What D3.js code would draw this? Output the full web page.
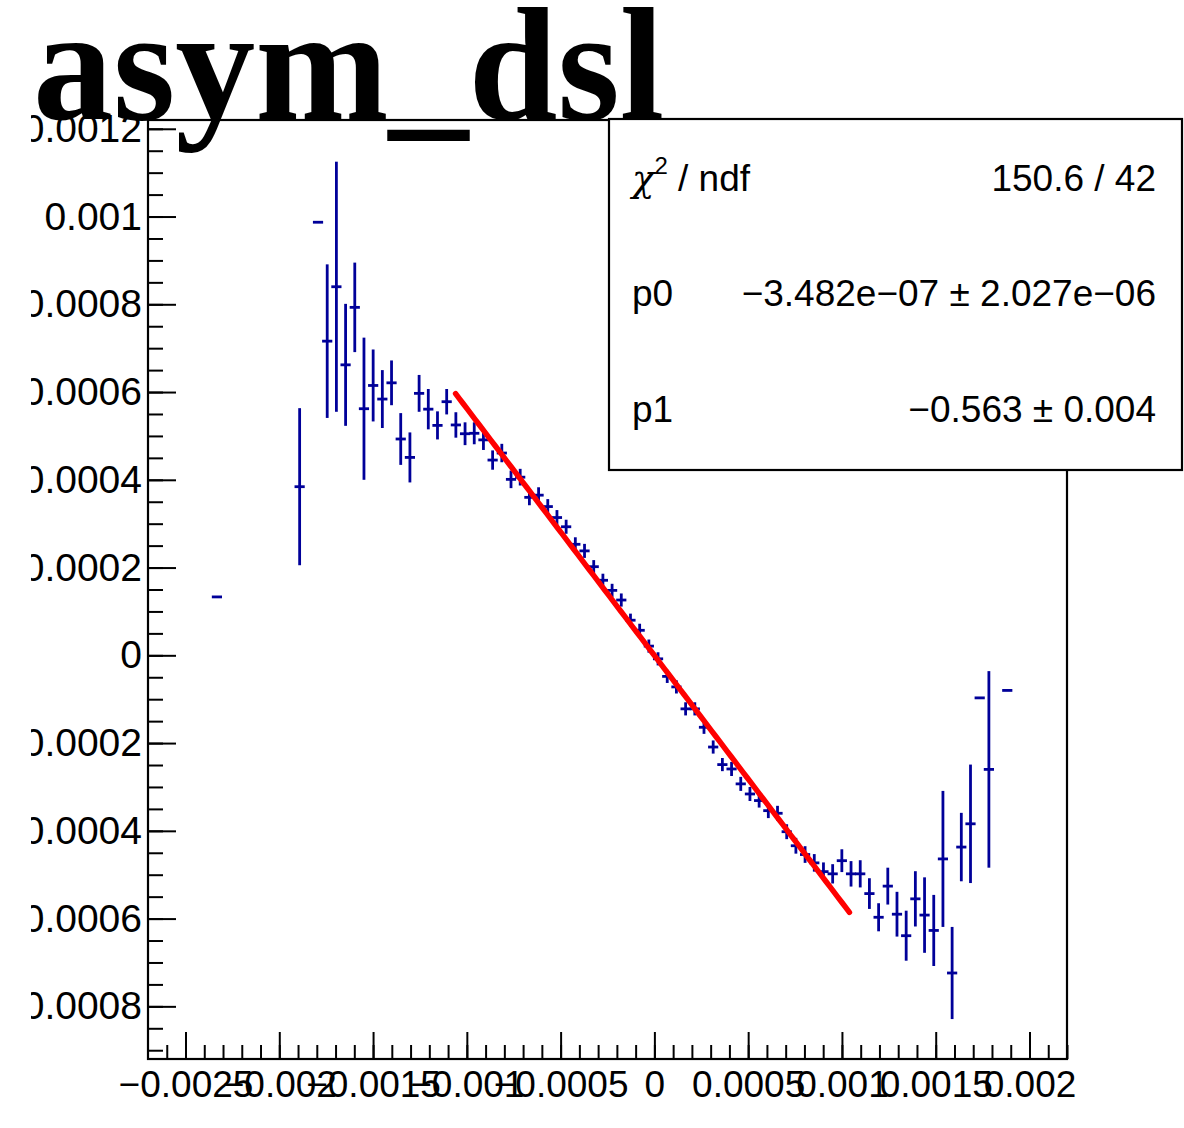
<!DOCTYPE html>
<html>
<head>
<meta charset="utf-8">
<script src="https://cdn.jsdelivr.net/npm/d3@7"></script>
<style>
  html, body { margin: 0; padding: 0; background: #fff; }
  svg { display: block; }
</style>
</head>
<body>
<script>
// ---------------- data ----------------
const histTitle = "asym_dsl";
const xMin = -0.0027, xMax = 0.0022, nBins = 100;
const yMin = -0.00092, yMax = 0.00122;

// filled bins (index into the 100-bin histogram), bin content and error
const binIndex = [7, 16, 18, 19, 20, 21, 22, 23, 24, 25, 26, 27, 28, 29, 30, 31, 32, 33, 34, 35,
  36, 37, 38, 39, 40, 41, 42, 43, 44, 45, 46, 47, 48, 49, 50, 51, 52, 53, 54, 55,
  56, 57, 58, 59, 60, 61, 62, 63, 64, 65, 66, 67, 68, 69, 70, 71, 72, 73, 74, 75,
  76, 77, 78, 79, 80, 81, 82, 83, 84, 85, 86, 87, 88, 89, 90, 91, 93];
const binValue = [1.331e-4, 3.843e-4, 9.87e-4, 7.16e-4, 8.40e-4, 6.62e-4, 7.93e-4, 5.62e-4, 6.15e-4, 5.84e-4,
  6.21e-4, 4.93e-4, 4.51e-4, 5.97e-4, 5.61e-4, 5.24e-4, 5.78e-4, 5.25e-4, 5.05e-4, 5.06e-4,
  4.91e-4, 4.45e-4, 4.61e-4, 4.01e-4, 4.06e-4, 3.60e-4, 3.65e-4, 3.39e-4, 3.14e-4, 2.93e-4,
  2.53e-4, 2.38e-4, 2.02e-4, 1.71e-4, 1.48e-4, 1.26e-4, 8.0e-5, 5.7e-5, 2.1e-5, -8e-6,
  -4.8e-5, -7.2e-5, -1.22e-4, -1.22e-4, -1.64e-4, -2.09e-4, -2.49e-4, -2.59e-4, -2.93e-4, -3.16e-4,
  -3.31e-4, -3.54e-4, -3.60e-4, -4.02e-4, -4.34e-4, -4.54e-4, -4.73e-4, -4.93e-4, -4.98e-4, -4.68e-4,
  -4.98e-4, -4.98e-4, -5.43e-4, -5.97e-4, -5.26e-4, -5.90e-4, -6.39e-4, -5.55e-4, -5.92e-4, -6.27e-4,
  -4.64e-4, -7.24e-4, -4.37e-4, -3.84e-4, -9.7e-5, -2.60e-4, -8.0e-5];
const binError = [0, 1.79e-4, 0, 1.75e-4, 2.85e-4, 1.39e-4, 1.02e-4, 1.62e-4, 8.2e-5, 6.6e-5,
  5.1e-5, 5.9e-5, 5.7e-5, 4.2e-5, 4.6e-5, 3.2e-5, 2.9e-5, 2.9e-5, 2.6e-5, 2.5e-5,
  2.3e-5, 2.2e-5, 2.1e-5, 2.0e-5, 1.9e-5, 1.8e-5, 1.8e-5, 1.7e-5, 1.7e-5, 1.6e-5,
  1.6e-5, 1.6e-5, 1.5e-5, 1.5e-5, 1.5e-5, 1.5e-5, 1.5e-5, 1.5e-5, 1.5e-5, 1.5e-5,
  1.5e-5, 1.5e-5, 1.5e-5, 1.5e-5, 1.5e-5, 1.5e-5, 1.5e-5, 1.6e-5, 1.6e-5, 1.6e-5,
  1.6e-5, 1.7e-5, 1.7e-5, 1.7e-5, 1.8e-5, 1.9e-5, 2.0e-5, 2.1e-5, 2.2e-5, 2.6e-5,
  2.9e-5, 3.1e-5, 3.5e-5, 3.2e-5, 4.2e-5, 5.1e-5, 5.7e-5, 6.3e-5, 8.6e-5, 8.1e-5,
  1.55e-4, 1.05e-4, 7.8e-5, 1.35e-4, 0, 2.24e-4, 0];

// fit (pol1)
const fitP0 = -3.482e-07, fitP1 = -0.563;
const fitRange = [-0.00106, 0.00104];

// stats box lines
const statsRows = [
  { label: "chi", value: "150.6 / 42" },
  { label: "p0", value: "\u22123.482e\u221207 \u00b1 2.027e\u221206" },
  { label: "p1", value: "\u22120.563 \u00b1 0.004" }
];

// axis ticks
const xMajorTicks = [-0.0025, -0.002, -0.0015, -0.001, -0.0005, 0, 0.0005, 0.001, 0.0015, 0.002];
const xTickLabels = ["\u22120.0025", "\u22120.002", "\u22120.0015", "\u22120.001", "\u22120.0005", "0", "0.0005", "0.001", "0.0015", "0.002"];
const yMajorTicks = [0.0012, 0.001, 0.0008, 0.0006, 0.0004, 0.0002, 0, -0.0002, -0.0004, -0.0006, -0.0008];
const yTickLabels = ["0.0012", "0.001", "0.0008", "0.0006", "0.0004", "0.0002", "0", "\u22120.0002", "\u22120.0004", "\u22120.0006", "\u22120.0008"];

// ---------------- drawing ----------------
const W = 1184, H = 1128;
const frame = { left: 148, right: 1067, top: 120, bottom: 1059 };
const navy = "#000099";
const tickFont = "Liberation Sans, Arial, Helvetica, sans-serif";

const svg = d3.select("body").append("svg").attr("width", W).attr("height", H);
svg.append("rect").attr("width", W).attr("height", H).attr("fill", "#fff");

const defs = svg.append("defs");
defs.append("clipPath").attr("id", "padclip")
  .append("rect").attr("x", 31).attr("y", 0).attr("width", W - 31).attr("height", H);

const root = svg.append("g").attr("clip-path", "url(#padclip)");

const x = d3.scaleLinear().domain([xMin, xMax]).range([frame.left, frame.right]);
const y = d3.scaleLinear().domain([yMin, yMax]).range([frame.bottom, frame.top]);
const bw = (xMax - xMin) / nBins;

// minor ticks
const xMinor = d3.range(-0.0026, 0.00221, 0.0001).map(v => +v.toFixed(5)).filter(v => v >= xMin && v <= xMax);
const yMinor = d3.range(-0.0009, 0.00121, 0.00005).map(v => +v.toFixed(6)).filter(v => v >= yMin && v <= yMax);

// x axis
const gx = root.append("g").attr("transform", `translate(0,${frame.bottom})`);
gx.call(d3.axisBottom(x).tickValues(xMinor).tickSize(-14).tickFormat("").tickSizeOuter(0));
const gxMaj = root.append("g").attr("class", "xmaj").attr("transform", `translate(0,${frame.bottom})`);
gxMaj.call(d3.axisBottom(x).tickValues(xMajorTicks).tickSize(-27).tickSizeOuter(0).tickPadding(12)
  .tickFormat((d, i) => xTickLabels[i]));

// y axis
const gy = root.append("g").attr("transform", `translate(${frame.left},0)`);
gy.call(d3.axisLeft(y).tickValues(yMinor).tickSize(-15).tickFormat("").tickSizeOuter(0));
const gyMaj = root.append("g").attr("class", "ymaj").attr("transform", `translate(${frame.left},0)`);
gyMaj.call(d3.axisLeft(y).tickValues(yMajorTicks).tickSize(-28).tickSizeOuter(0).tickPadding(6)
  .tickFormat((d, i) => yTickLabels[i]));

root.selectAll(".domain").remove();
root.selectAll(".tick line").attr("stroke", "#000").attr("stroke-width", 2);
root.selectAll(".tick text").attr("font-family", tickFont).attr("fill", "#000");
root.selectAll(".xmaj .tick text").attr("font-size", 37);
root.selectAll(".ymaj .tick text").attr("font-size", 39);

// frame
root.append("rect")
  .attr("x", frame.left).attr("y", frame.top)
  .attr("width", frame.right - frame.left).attr("height", frame.bottom - frame.top)
  .attr("fill", "none").attr("stroke", "#000").attr("stroke-width", 2.2);

// data: error bars
const pts = binIndex.map((b, i) => ({
  c: xMin + bw * (b + 0.5), v: binValue[i], e: binError[i]
}));
const gd = root.append("g").attr("stroke", navy).attr("stroke-width", 2.8).attr("fill", "none");
gd.selectAll("line.h").data(pts).join("line").attr("class", "h")
  .attr("x1", d => x(d.c - bw / 2) - 0.5).attr("x2", d => x(d.c + bw / 2) + 0.5)
  .attr("y1", d => y(d.v)).attr("y2", d => y(d.v));
gd.selectAll("line.v").data(pts.filter(d => d.e > 0)).join("line").attr("class", "v")
  .attr("x1", d => x(d.c)).attr("x2", d => x(d.c))
  .attr("y1", d => y(d.v - d.e)).attr("y2", d => y(d.v + d.e));

// fit line
const fitPts = d3.range(0, 101).map(k => {
  const xv = fitRange[0] + (fitRange[1] - fitRange[0]) * k / 100;
  return [xv, fitP0 + fitP1 * xv];
});
root.append("path")
  .attr("d", d3.line().x(d => x(d[0])).y(d => y(d[1]))(fitPts))
  .attr("fill", "none").attr("stroke", "#ff0000").attr("stroke-width", 5.5).attr("stroke-linecap", "round");

// title
root.append("text")
  .attr("x", 33).attr("y", 119)
  .attr("font-family", "Liberation Serif, Times New Roman, serif")
  .attr("font-weight", "bold").attr("font-size", 160)
  .attr("fill", "#000")
  .text(histTitle);

// stats box
const box = { x: 609, y: 119, w: 573, h: 351 };
root.append("rect").attr("x", box.x).attr("y", box.y).attr("width", box.w).attr("height", box.h)
  .attr("fill", "#fff").attr("stroke", "#000").attr("stroke-width", 2.2);

const rowBase = [191, 306, 422];
statsRows.forEach((r, i) => {
  const tl = root.append("text").attr("x", 632).attr("y", rowBase[i])
    .attr("font-family", tickFont).attr("font-size", 37).attr("fill", "#000");
  if (r.label === "chi") {
    tl.append("tspan").attr("font-family", "DejaVu Serif, serif").attr("font-style", "italic").text("\u03c7");
    tl.append("tspan").attr("font-size", 24).attr("dy", -17).text("2");
    tl.append("tspan").attr("dy", 17).text(" / ndf");
  } else {
    tl.text(r.label);
  }
  root.append("text").attr("x", 1156).attr("y", rowBase[i])
    .attr("text-anchor", "end")
    .attr("font-family", tickFont).attr("font-size", 37).attr("fill", "#000")
    .text(r.value);
});
</script>
</body>
</html>
